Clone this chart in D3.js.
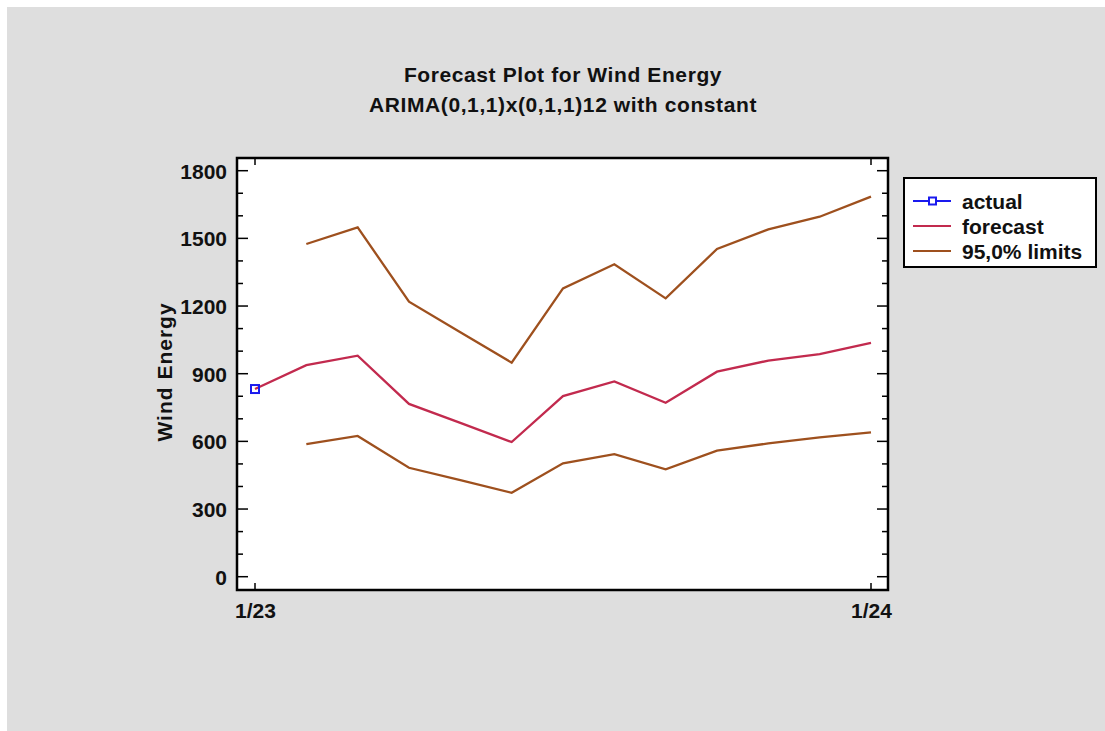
<!DOCTYPE html>
<html><head><meta charset="utf-8">
<script src="https://cdn.jsdelivr.net/npm/d3@7"></script>
<style>html,body{margin:0;padding:0;background:#fff;}svg{display:block;}</style>
</head><body>
<script>
// Data (month index 0 = 1/23, 12 = 1/24)
const actualMonths = [0];
const actualValues = [832];
const forecastMonths = [0,1,2,3,4,5,6,7,8,9,10,11,12];
const forecastValues = [832,938,980,766,682,597,801,866,771,909,958,987,1037];
const limitMonths = [1,2,3,4,5,6,7,8,9,10,11,12];
const upperValues = [1475,1549,1219,1084,949,1278,1385,1234,1453,1540,1596,1685];
const lowerValues = [588,624,483,428,372,503,543,476,559,591,618,640];
const yTicks = [0,300,600,900,1200,1500,1800];
const xTickMonths = [0,12];
const xTickLabels = ["1/23","1/24"];
const legendLabels = ["actual","forecast","95,0% limits"];
const titleLines = ["Forecast Plot for Wind Energy","ARIMA(0,1,1)x(0,1,1)12 with constant"];
const yLabel = "Wind Energy";

const W = 1105, H = 731;
const svg = d3.select("body").append("svg").attr("width", W).attr("height", H);
const font = "Liberation Sans, Arial, sans-serif";
svg.append("rect").attr("x",7).attr("y",7).attr("width",W-7).attr("height",H-7).attr("fill","#dedede");

const plot = {l:237, t:158, r:888, b:590};
svg.append("rect").attr("x",plot.l).attr("y",plot.t).attr("width",plot.r-plot.l).attr("height",plot.b-plot.t)
  .attr("fill","#fff");

const x = d3.scaleLinear().domain([0,12]).range([255,871]);
const y = d3.scaleLinear().domain([0,1800]).range([576.7,170.7]);

const red = "#c22a4e", brown = "#9e501e", blue = "#1a1aee";

// axis ticks (inside, both sides)
const minor = d3.range(0,1801,100);
svg.append("g").selectAll("line").data(minor).join("line")
  .attr("x1", plot.l).attr("x2", d => plot.l + (d%300===0 ? 11 : 6))
  .attr("y1", d=>y(d)).attr("y2", d=>y(d)).attr("stroke","#000").attr("stroke-width",1.5);
svg.append("g").selectAll("line").data(minor).join("line")
  .attr("x1", plot.r).attr("x2", d => plot.r - (d%300===0 ? 11 : 6))
  .attr("y1", d=>y(d)).attr("y2", d=>y(d)).attr("stroke","#000").attr("stroke-width",1.5);
// y tick labels via axis
const yAxis = d3.axisLeft(y).tickValues(yTicks).tickFormat(d3.format("d")).tickSize(0).tickPadding(0);
const ya = svg.append("g").attr("transform",`translate(${plot.l-10},0)`).call(yAxis);
ya.select(".domain").remove();
ya.selectAll("text").attr("font-family",font).attr("font-weight","bold").attr("font-size",21).attr("fill","#111").attr("dy","0.36em");

// x ticks
svg.append("g").selectAll("line").data(xTickMonths).join("line")
  .attr("x1",d=>x(d)).attr("x2",d=>x(d)).attr("y1",plot.b).attr("y2",plot.b-7).attr("stroke","#000").attr("stroke-width",1.5);
svg.append("g").selectAll("line").data(xTickMonths).join("line")
  .attr("x1",d=>x(d)).attr("x2",d=>x(d)).attr("y1",plot.t).attr("y2",plot.t+7).attr("stroke","#000").attr("stroke-width",1.5);
const xAxis = d3.axisBottom(x).tickValues(xTickMonths).tickFormat((d,i)=>xTickLabels[i]).tickSize(0).tickPadding(0);
const xa = svg.append("g").attr("transform",`translate(0,${plot.b+13})`).call(xAxis);
xa.select(".domain").remove();
xa.selectAll("text").attr("font-family",font).attr("font-weight","bold").attr("font-size",21).attr("fill","#111").attr("dy","0.71em");

// lines
const line = d3.line().x(d=>x(d[0])).y(d=>y(d[1]));
svg.append("path").datum(d3.zip(limitMonths, upperValues)).attr("d",line).attr("fill","none").attr("stroke",brown).attr("stroke-width",2.3);
svg.append("path").datum(d3.zip(limitMonths, lowerValues)).attr("d",line).attr("fill","none").attr("stroke",brown).attr("stroke-width",2.3);
svg.append("path").datum(d3.zip(forecastMonths, forecastValues)).attr("d",line).attr("fill","none").attr("stroke",red).attr("stroke-width",2.3);
svg.append("g").selectAll("rect").data(d3.zip(actualMonths, actualValues)).join("rect")
  .attr("x",d=>x(d[0])-4).attr("y",d=>y(d[1])-4).attr("width",8).attr("height",8)
  .attr("fill","none").attr("stroke",blue).attr("stroke-width",2);

// frame
svg.append("rect").attr("x",plot.l).attr("y",plot.t).attr("width",plot.r-plot.l).attr("height",plot.b-plot.t)
  .attr("fill","none").attr("stroke","#000").attr("stroke-width",2.5);

// title
svg.append("g").selectAll("text").data(titleLines).join("text")
  .attr("x",563).attr("y",(d,i)=>82+i*30).attr("text-anchor","middle")
  .attr("font-family",font).attr("font-weight","bold").attr("font-size",21).attr("letter-spacing",0.6)
  .attr("fill","#111").text(d=>d);

// y label
svg.append("text").attr("transform","translate(172,372) rotate(-90)").attr("text-anchor","middle")
  .attr("font-family",font).attr("font-weight","bold").attr("font-size",21).attr("letter-spacing",1)
  .attr("fill","#111").text(yLabel);

// legend
const lg = svg.append("g");
lg.append("rect").attr("x",904).attr("y",178).attr("width",192).attr("height",89).attr("fill","#fff").attr("stroke","#000").attr("stroke-width",2);
const lcolors = [blue, red, brown];
const ly = [201, 226, 251];
lg.selectAll("line").data(lcolors).join("line")
  .attr("x1",913).attr("x2",951).attr("y1",(d,i)=>ly[i]).attr("y2",(d,i)=>ly[i]).attr("stroke",d=>d).attr("stroke-width",2);
lg.append("rect").attr("x",929).attr("y",ly[0]-3.5).attr("width",7).attr("height",7).attr("fill","#fff").attr("stroke",blue).attr("stroke-width",2);
lg.selectAll("text").data(legendLabels).join("text")
  .attr("x",962).attr("y",(d,i)=>ly[i]).attr("dy","0.36em")
  .attr("font-family",font).attr("font-weight","bold").attr("font-size",21).attr("fill","#111").text(d=>d);
</script>
</body></html>
